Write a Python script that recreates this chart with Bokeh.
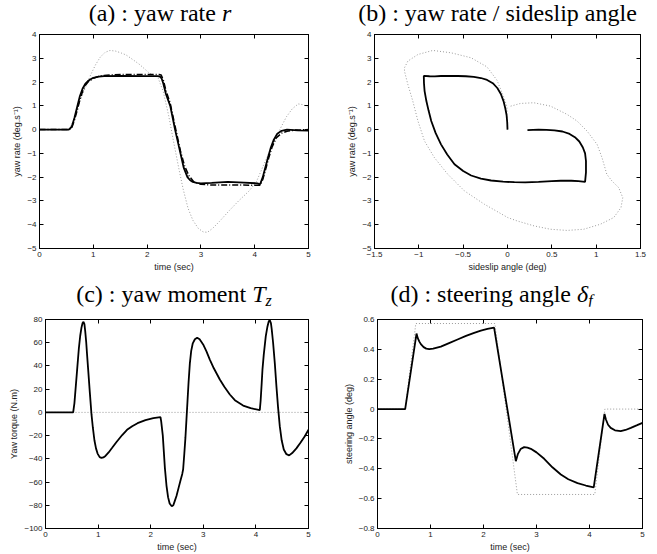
from bokeh.plotting import figure
from bokeh.models import (Range1d, FixedTicker, LinearAxis, Div,
                          CustomJSTickFormatter)
from bokeh.layouts import column, row
from bokeh.embed import file_html
from bokeh.resources import INLINE

# ---------------- data ----------------
# (a) yaw rate r (deg/s) vs time
a_t_ctrl = [0, 0.545, 0.6, 0.65, 0.7, 0.75, 0.8, 0.85, 0.9, 0.95, 1.0, 1.1,
            1.2, 1.5, 2.0, 2.2, 2.24, 2.27, 2.3, 2.35, 2.43, 2.52, 2.62, 2.68,
            2.75, 2.8, 2.85, 2.92, 3.0, 3.2, 3.5, 3.8, 4.05, 4.1, 4.15, 4.2,
            4.25, 4.3, 4.35, 4.42, 4.5, 4.6, 4.8, 5.0]
a_r_ctrl = [0, 0, 0.12, 0.5, 0.95, 1.4, 1.72, 1.92, 2.04, 2.12, 2.18, 2.23,
            2.25, 2.26, 2.25, 2.25, 2.23, 2.15, 1.95, 1.5, 1.0, 0.0, -1.0,
            -1.6, -2.0, -2.13, -2.2, -2.24, -2.26, -2.24, -2.2, -2.23, -2.26,
            -2.3, -2.0, -1.57, -1.15, -0.75, -0.45, -0.17, -0.05, 0.0, -0.03,
            -0.04]
a_t_ref = [0, 0.55, 0.6, 0.65, 0.7, 0.75, 0.8, 0.85, 0.9, 1.0, 1.1, 1.2, 1.4,
           1.8, 2.22, 2.26, 2.3, 2.35, 2.43, 2.52, 2.62, 2.7, 2.78, 2.87, 3.0,
           3.2, 3.6, 4.0, 4.1, 4.15, 4.2, 4.26, 4.32, 4.4, 4.5, 4.6, 4.75,
           5.0]
a_r_ref = [0, 0, 0.08, 0.4, 0.8, 1.25, 1.6, 1.85, 2.0, 2.16, 2.24, 2.28,
           2.31, 2.32, 2.32, 2.3, 2.1, 1.65, 1.1, 0.15, -0.9, -1.55, -1.95,
           -2.2, -2.3, -2.33, -2.33, -2.34, -2.34, -2.1, -1.7, -1.2, -0.75,
           -0.35, -0.15, -0.07, -0.02, 0.0]
a_t_free = [0, 0.545, 0.65, 0.76, 0.85, 0.95, 1.04, 1.13, 1.22, 1.31, 1.42,
            1.52, 1.61, 1.75, 1.86, 2.04, 2.2, 2.3, 2.4, 2.5, 2.6, 2.67, 2.76,
            2.85, 2.95, 3.04, 3.12, 3.22, 3.35, 3.53, 3.7, 3.9, 4.03, 4.15,
            4.28, 4.4, 4.5, 4.59, 4.7, 4.81, 4.9, 5.0]
a_r_free = [0, 0, 0.45, 1.23, 1.75, 2.3, 2.72, 3.05, 3.25, 3.33, 3.3, 3.22,
            3.14, 2.92, 2.74, 2.38, 2.2, 1.6, 0.6, -0.6, -1.75, -2.5, -3.3,
            -3.81, -4.15, -4.3, -4.32, -4.15, -3.85, -3.4, -3.0, -2.57, -2.2,
            -1.57, -0.9, -0.31, 0.15, 0.54, 0.88, 1.08, 1.05, 0.93]

# (b) yaw rate vs sideslip angle
b_beta_ctrl = [0.0, -0.003, -0.01, -0.025, -0.045, -0.075, -0.115, -0.166,
               -0.23, -0.3, -0.38, -0.47, -0.56, -0.66, -0.75, -0.82, -0.88,
               -0.944, -0.942, -0.935, -0.915, -0.89, -0.86, -0.81, -0.75,
               -0.68, -0.598, -0.5, -0.41, -0.3, -0.185, -0.05, 0.078, 0.2,
               0.35, 0.5, 0.6, 0.72, 0.8, 0.875, 0.885, 0.885, 0.875, 0.85,
               0.81, 0.76, 0.7, 0.62, 0.53, 0.44, 0.35, 0.225]
b_r_ctrl = [0.0, 0.3, 0.6, 0.9, 1.2, 1.5, 1.75, 1.95, 2.09, 2.17, 2.22,
            2.245, 2.255, 2.26, 2.255, 2.24, 2.245, 2.26, 1.95, 1.62, 1.2,
            0.8, 0.36, -0.15, -0.62, -1.05, -1.46, -1.74, -1.93, -2.06, -2.14,
            -2.19, -2.21, -2.22, -2.2, -2.17, -2.15, -2.15, -2.17, -2.2, -1.8,
            -1.32, -1.0, -0.75, -0.5, -0.32, -0.18, -0.08, -0.03, -0.01, 0.0,
            -0.02]
b_beta_free = [0.0, -0.005, -0.006, -0.043, -0.119, -0.232, -0.41, -0.636,
               -0.842, -1.01, -1.124, -1.162, -1.162, -1.124, -1.068, -1.01,
               -0.936, -0.824, -0.673, -0.485, -0.26, 0.003, 0.108, 0.3,
               0.484, 0.672, 0.86, 1.047, 1.198, 1.28, 1.3, 1.254, 1.178,
               1.12, 1.066, 1.01, 0.897, 0.785, 0.672, 0.484, 0.296, 0.146,
               0.02]
b_r_free = [0.0, 0.5, 0.96, 1.38, 2.08, 2.64, 3.02, 3.23, 3.33, 3.16, 2.88,
            2.6, 2.46, 1.9, 1.2, 0.36, -0.48, -1.18, -1.88, -2.58, -3.14,
            -3.7, -3.84, -4.05, -4.19, -4.24, -4.19, -3.98, -3.7, -3.28,
            -2.86, -2.44, -2.16, -1.88, -1.18, -0.62, -0.06, 0.36, 0.64, 0.99,
            1.13, 1.1, 0.97]

# (c) yaw moment Tz (N.m) vs time
c_t = [0, 0.526, 0.55, 0.6, 0.634, 0.66, 0.684, 0.705, 0.722, 0.74, 0.755,
       0.773, 0.79, 0.811, 0.843, 0.875, 0.9, 0.93, 0.96, 0.99, 1.03, 1.065,
       1.1, 1.14, 1.2, 1.267, 1.35, 1.458, 1.55, 1.648, 1.75, 1.9, 2.05,
       2.186, 2.2, 2.23, 2.27, 2.3, 2.33, 2.36, 2.4, 2.43, 2.46, 2.49, 2.53,
       2.57, 2.6, 2.617, 2.64, 2.66, 2.68, 2.7, 2.72, 2.744, 2.77, 2.8, 2.84,
       2.883, 2.93, 2.997, 3.06, 3.124, 3.2, 3.314, 3.4, 3.504, 3.6, 3.757,
       3.9, 4.074, 4.09, 4.11, 4.125, 4.15, 4.188, 4.22, 4.245, 4.264, 4.285,
       4.3, 4.327, 4.36, 4.39, 4.42, 4.454, 4.49, 4.53, 4.58, 4.632, 4.69,
       4.77, 4.85, 4.93, 5.0]
c_tz = [0, 0, 8, 36, 55, 66, 73, 77, 78, 76, 70, 61, 50, 37, 17, -2, -13,
        -24, -31, -35.5, -38.5, -39.2, -38.8, -37.5, -34.5, -30.5, -25.5,
        -19.5, -15, -11.9, -9.3, -6.7, -5, -4.1, -8, -20, -48, -63, -73,
        -78.5, -80.8, -80, -76, -72, -65, -58, -53, -49, -35, -22, -6, 10,
        26, 42, 53, 59.5, 63, 64.3, 63, 58.5, 52.5, 45.5, 38, 28.3, 22, 15.4,
        10.5, 5.9, 3.6, 2, 10, 25, 37, 50, 65.6, 74, 78.5, 79.5, 77, 72, 60,
        42, 22.6, 5, -11.9, -24, -32, -36, -37, -35, -31, -26, -20.5, -15]
c_t_free = [0, 5]
c_tz_free = [0, 0]

# (d) steering angle delta_f (deg) vs time
d_t = [0, 0.522, 0.736, 0.76, 0.79, 0.818, 0.87, 0.92, 0.975, 1.05, 1.195,
       1.35, 1.51, 1.67, 1.824, 1.95, 2.075, 2.2, 2.61, 2.65, 2.7, 2.767,
       2.83, 2.893, 3.0, 3.145, 3.3, 3.459, 3.6, 3.774, 3.93, 4.08, 4.283,
       4.31, 4.35, 4.4, 4.48, 4.59, 4.68, 4.78, 4.9, 5.0]
d_delta = [0, 0, 0.506, 0.475, 0.452, 0.435, 0.415, 0.405, 0.402, 0.405,
           0.418, 0.442, 0.466, 0.49, 0.511, 0.526, 0.537, 0.546, -0.349,
           -0.3, -0.268, -0.255, -0.258, -0.266, -0.29, -0.333, -0.39, -0.438,
           -0.47, -0.496, -0.512, -0.525, -0.032, -0.07, -0.105, -0.126,
           -0.142, -0.148, -0.14, -0.126, -0.108, -0.092]
d_t_free = [0, 0.522, 0.723, 2.214, 2.64, 4.1, 4.29, 5.0]
d_delta_free = [0, 0, 0.573, 0.573, -0.572, -0.572, 0, 0]

time_ticks = [0, 1, 2, 3, 4, 5]
beta_ticks = [-1.5, -1, -0.5, 0, 0.5, 1, 1.5]
r_ticks = [-5, -4, -3, -2, -1, 0, 1, 2, 3, 4]
tz_ticks = [-100, -80, -60, -40, -20, 0, 20, 40, 60, 80]
delta_ticks = [-0.8, -0.6, -0.4, -0.2, 0, 0.2, 0.4, 0.6]

titles = ["(a) : yaw rate <i>r</i>",
          "(b) : yaw rate / sideslip angle",
          "(c) : yaw moment <i>T</i><span class='s'><i>z</i></span>",
          "(d) : steering angle <i>\u03b4</i><span class='s'><i>f</i></span>"]

# ---------------- styling ----------------
SANS = "Liberation Sans"
FREE_COLOR = "#9a9a9a"

fmt_code = "var s = String(Math.round(tick*10)/10); return s.replace('-', '\u2212');"


def make_fig(w, h, xr, yr, bl, br, bt, bb):
    p = figure(width=w, height=h, x_range=Range1d(*xr), y_range=Range1d(*yr),
               output_backend="svg", toolbar_location=None, title=None,
               min_border_left=bl, min_border_right=br, min_border_top=bt,
               min_border_bottom=bb)
    p.xgrid.visible = False
    p.ygrid.visible = False
    p.outline_line_color = "black"
    p.outline_line_alpha = 1.0
    p.outline_line_width = 1
    p.background_fill_color = "white"
    p.border_fill_color = "white"
    return p


def style_axes(p, xticks, yticks, xlabel, ylabel):
    for ax in [p.xaxis[0], p.yaxis[0]]:
        ax.major_tick_in = 4
        ax.major_tick_out = 0
        ax.minor_tick_line_color = None
        ax.axis_line_color = "black"
        ax.major_tick_line_color = "black"
        ax.major_label_text_font = SANS
        ax.major_label_text_font_size = "8px"
        ax.major_label_text_color = "#222222"
        ax.axis_label_text_font = SANS
        ax.axis_label_text_font_size = "9px"
        ax.axis_label_text_font_style = "normal"
        ax.axis_label_text_color = "#222222"
        ax.major_label_standoff = 3
        ax.axis_label_standoff = 2
        ax.formatter = CustomJSTickFormatter(code=fmt_code)
    p.xaxis[0].ticker = FixedTicker(ticks=xticks)
    p.yaxis[0].ticker = FixedTicker(ticks=yticks)
    p.xaxis[0].axis_label = xlabel
    p.yaxis[0].axis_label = ylabel
    # mirrored ticks (box on)
    for side, ticks in [("right", yticks), ("above", xticks)]:
        ax = LinearAxis(ticker=FixedTicker(ticks=ticks),
                        formatter=CustomJSTickFormatter(code="return '';"),
                        major_tick_in=4, major_tick_out=0,
                        minor_tick_line_color=None,
                        major_label_text_font_size="0px",
                        major_label_standoff=0,
                        axis_line_color="black",
                        major_tick_line_color="black")
        p.add_layout(ax, side)


def draw(p, xs, ys, kind):
    if kind == "ctrl":
        p.line(xs, ys, line_color="black", line_width=1.8)
    elif kind == "ref":
        p.line(xs, ys, line_color="black", line_width=1.5,
               line_dash="6 2 1 2")
    else:
        p.line(xs, ys, line_color=FREE_COLOR, line_width=1.0,
               line_dash="1 2")


def title_div(html, w, h, pad_top, shift):
    style = ("font-family:'Liberation Serif';font-size:24px;line-height:24px;"
             "text-align:center;width:%dpx;padding-top:%dpx;position:relative;"
             "left:%dpx;color:black;white-space:nowrap" % (w, pad_top, shift))
    sub = ("<style>.s{font-size:16px;position:relative;top:4px;}</style>")
    return Div(text=sub + "<div style=\"%s\">%s</div>" % (style, html),
               width=w, height=h, margin=(0, 0, 0, 0))


# (a)
pa = make_fig(330, 254, (0, 5), (-5, 4), 39, 22, 8, 32)
draw(pa, a_t_free, a_r_free, "free")
draw(pa, a_t_ref, a_r_ref, "ref")
draw(pa, a_t_ctrl, a_r_ctrl, "ctrl")
style_axes(pa, time_ticks, r_ticks, "time (sec)", "yaw rate (deg.s\u207b\u00b9)")

# (b)
pb = make_fig(327, 254, (-1.5, 1.5), (-5, 4), 44, 17, 8, 32)
draw(pb, b_beta_free, b_r_free, "free")
draw(pb, b_beta_ctrl, b_r_ctrl, "ctrl")
style_axes(pb, beta_ticks, r_ticks, "sideslip angle (deg)",
           "yaw rate (deg.s\u207b\u00b9)")

# (c)
pc = make_fig(330, 248, (0, 5), (-100, 80), 45, 22, 13, 26)
draw(pc, c_t_free, c_tz_free, "free")
draw(pc, c_t, c_tz, "ctrl")
style_axes(pc, time_ticks, tz_ticks, "time (sec)", "Yaw torque (N.m)")

# (d)
pd = make_fig(327, 248, (0, 5), (-0.8, 0.6), 47, 15, 13, 26)
draw(pd, d_t_free, d_delta_free, "free")
draw(pd, d_t, d_delta, "ctrl")
style_axes(pd, time_ticks, delta_ticks, "time (sec)", "steering angle (deg)")

ta = title_div(titles[0], 330, 26, 1, -5)
tb = title_div(titles[1], 327, 26, 1, 4)
tc = title_div(titles[2], 330, 26, 2, 9)
td = title_div(titles[3], 327, 26, 2, -2)

layout = column(row(column(ta, pa), column(tb, pb)),
                row(column(tc, pc), column(td, pd)))

open("out.html", "w").write(file_html(layout, INLINE))
